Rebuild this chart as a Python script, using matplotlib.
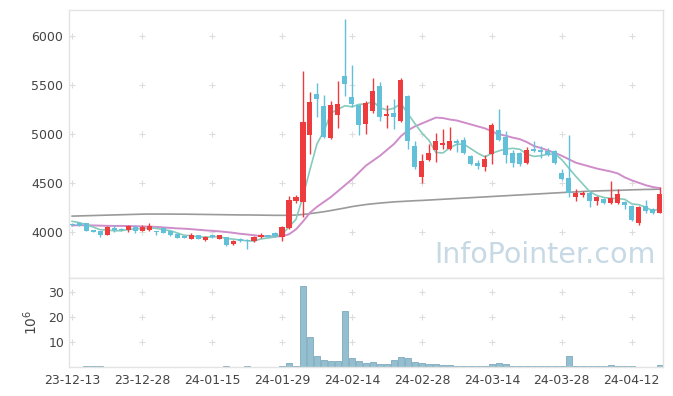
import numpy as np
import pandas as pd
import matplotlib
matplotlib.use('Agg')
import matplotlib.pyplot as plt

# daily prices (index 0 = 23-12-13)
opens = [4085, 4090, 4090, 4020, 4013, 3976, 4044, 4037, 4023, 4057,
         4016, 4023, 4010, 4044, 4010, 3983, 3962, 3935, 3969, 3921,
         3969, 3935, 3949, 3880, 3935, 3925, 3908, 3949, 3969, 3996,
         3955, 4041, 4317, 4312, 4996, 5412, 5289, 4966, 5200, 5595,
         5378, 5296, 5105, 5241, 5493, 5187, 5221, 5133, 5391, 4881,
         4567, 4738, 4840, 4888, 4853, 4929, 4942, 4779, 4704, 4663,
         4799, 5044, 4976, 4813, 4806, 4711, 4853, 4840, 4826, 4830,
         4608, 4554, 4363, 4377, 4404, 4323, 4336, 4302, 4302, 4309,
         4268, 4098, 4268, 4234, 4200]
highs = [4095, 4100, 4095, 4025, 4015, 4063, 4071, 4045, 4078, 4071,
         4071, 4098, 4012, 4050, 4015, 3990, 3965, 3990, 3975, 3962,
         3976, 3976, 3955, 3921, 3942, 3930, 3962, 3996, 3976, 4003,
         4060, 4370, 4385, 5643, 5432, 5520, 5398, 5340, 5541, 6173,
         5704, 5300, 5343, 5571, 5534, 5302, 5357, 5578, 5400, 4935,
         4796, 4901, 5010, 5051, 5078, 4950, 4976, 4790, 4740, 4786,
         5112, 5262, 5030, 4840, 4820, 4867, 4929, 4880, 4860, 4840,
         4650, 4996, 4439, 4425, 4425, 4370, 4345, 4520, 4445, 4323,
         4280, 4270, 4330, 4250, 4459]
lows = [4065, 4060, 4010, 4000, 3950, 3970, 4003, 4015, 4003, 3990,
        4010, 4015, 3976, 3990, 3965, 3940, 3940, 3930, 3930, 3910,
        3945, 3930, 3860, 3867, 3900, 3826, 3900, 3942, 3950, 3955,
        3915, 4030, 4300, 4160, 4799, 5173, 4962, 4949, 5064, 5391,
        5276, 4990, 5003, 5221, 5139, 5061, 5051, 5120, 4847, 4650,
        4500, 4724, 4717, 4847, 4840, 4822, 4800, 4690, 4643, 4622,
        4697, 4935, 4711, 4663, 4680, 4700, 4820, 4760, 4780, 4700,
        4530, 4363, 4323, 4360, 4255, 4275, 4290, 4289, 4290, 4241,
        4120, 4078, 4200, 4190, 4195]
closes = [4070, 4065, 4015, 4005, 3976, 4057, 4023, 4020, 4064, 4016,
          4057, 4064, 4000, 3996, 3969, 3942, 3942, 3976, 3935, 3955,
          3955, 3969, 3867, 3908, 3908, 3915, 3955, 3976, 3955, 3962,
          4051, 4330, 4363, 5125, 5329, 5363, 4976, 5296, 5306, 5513,
          5309, 5098, 5316, 5442, 5180, 5207, 5180, 5554, 4929, 4670,
          4728, 4812, 4929, 4908, 4929, 4915, 4813, 4697, 4677, 4745,
          5092, 4942, 4792, 4711, 4697, 4840, 4833, 4820, 4792, 4711,
          4547, 4404, 4398, 4404, 4316, 4357, 4302, 4350, 4391, 4282,
          4125, 4261, 4220, 4200, 4391]
prev_closes = [4130, 4120, 4125, 4115]  # closes before the first day (for MA5)

# volume, millions of shares
volumes = [0.1, 0.1, 0.4, 0.4, 0.4, 0.1, 0.1, 0.1, 0.1, 0.1,
           0.1, 0.1, 0.1, 0.1, 0.1, 0.1, 0.1, 0.1, 0.1, 0.1,
           0.1, 0.1, 0.4, 0.1, 0.1, 0.4, 0.1, 0.1, 0.1, 0.1,
           0.4, 1.5, 0.4, 32.3, 11.9, 4.4, 2.9, 2.4, 2.4, 22.2,
           3.6, 2.5, 1.7, 2.0, 1.2, 1.2, 2.8, 4.0, 3.6, 2.0,
           1.6, 1.2, 1.2, 0.8, 0.8, 0.4, 0.4, 0.4, 0.4, 0.4,
           1.2, 1.6, 1.2, 0.4, 0.4, 0.4, 0.4, 0.4, 0.4, 0.4,
           0.4, 4.4, 0.4, 0.4, 0.4, 0.4, 0.4, 0.8, 0.4, 0.4,
           0.4, 0.1, 0.1, 0.1, 0.8]

# 20-day and 120-day moving averages
ma20 = [4070, 4072, 4072, 4070, 4068, 4066, 4065, 4065, 4064, 4062,
        4060, 4058, 4055, 4050, 4045, 4040, 4037, 4032, 4026, 4020,
        4015, 4010, 4003, 3995, 3985, 3978, 3970, 3962, 3958, 3956,
        3960, 3980, 4030, 4110, 4200, 4260, 4310, 4360, 4420, 4480,
        4540, 4610, 4680, 4730, 4780, 4840, 4900, 4980, 5040, 5080,
        5110, 5140, 5170, 5165, 5150, 5140, 5120, 5100, 5080, 5060,
        5030, 5000, 4985, 4965, 4950, 4920, 4880, 4860, 4835, 4810,
        4780, 4745, 4710, 4690, 4670, 4650, 4635, 4620, 4600, 4560,
        4530, 4505, 4480, 4462, 4450]
ma120 = [4165, 4167, 4169, 4171, 4173, 4175, 4177, 4179, 4181, 4183,
         4185, 4186, 4186, 4186, 4186, 4185, 4185, 4184, 4183, 4182,
         4181, 4180, 4179, 4178, 4177, 4177, 4176, 4175, 4174, 4173,
         4173, 4173, 4176, 4182, 4190, 4200, 4210, 4222, 4235, 4248,
         4262, 4273, 4283, 4291, 4298, 4304, 4310, 4314, 4318, 4322,
         4325, 4329, 4333, 4337, 4341, 4345, 4349, 4353, 4357, 4361,
         4365, 4369, 4373, 4377, 4381, 4385, 4389, 4393, 4397, 4401,
         4405, 4409, 4412, 4416, 4419, 4422, 4424, 4426, 4428, 4430,
         4433, 4435, 4437, 4438, 4440]

tick_idx = [0, 10, 20, 30, 40, 50, 60, 70, 80]
tick_labels = ['23-12-13', '23-12-28', '24-01-15', '24-01-29', '24-02-14',
               '24-02-28', '24-03-14', '24-03-28', '24-04-12']
price_ticks = [4000, 4500, 5000, 5500, 6000]
vol_ticks = [10, 20, 30]

up_color = '#ee3b3e'
down_color = '#62c0d9'
frame_color = '#e3e3e3'

o = np.array(opens)
h = np.array(highs)
l = np.array(lows)
c = np.array(closes)
x = np.arange(len(c))

all_close = pd.Series(prev_closes + closes)
ma5 = all_close.rolling(5).mean().values[len(prev_closes):]

fig = plt.figure(figsize=(6.73, 3.96), dpi=100)
ax = fig.add_axes([0.1025, 0.298, 0.8825, 0.677])
axv = fig.add_axes([0.1025, 0.0735, 0.8825, 0.2245], sharex=ax)

# moving averages
ax.plot(x, ma120, color='#9a9a9a', lw=1.2, zorder=1)
ax.plot(x, ma20, color='#cf8dca', lw=1.4, zorder=1)
ax.plot(x, ma5, color='#86cbbd', lw=1.2, zorder=1)

# candles
colors = np.where(c >= o, up_color, down_color)
ax.vlines(x, l, h, colors=colors, lw=1, zorder=2)
body_low = np.minimum(o, c)
body_h = np.maximum(np.abs(c - o), 8)
ax.bar(x, body_h, 0.72, bottom=body_low, color=colors, zorder=3)

ax.set_xlim(-0.45, 84.45)
ax.set_ylim(3534, 6268)
ax.set_yticks(price_ticks)
ax.set_yticklabels([str(v) for v in price_ticks])
ax.tick_params(axis='y', length=0, labelsize=9, labelcolor='#444444', pad=4)
ax.tick_params(axis='x', length=0, labelbottom=False)

gx, gy = np.meshgrid(tick_idx, price_ticks)
ax.scatter(gx.ravel(), gy.ravel(), marker='+', s=18, color='#dddddd', lw=0.8, zorder=0)

ax.text(0.988, 0.085, 'InfoPointer.com', transform=ax.transAxes, ha='right',
        va='center', fontsize=20.5, color='#c6d9e4', zorder=0)

# volume
axv.bar(x, volumes, 0.92, color='#94bfd0', edgecolor='#7eaabd', lw=0.6, zorder=2)
axv.set_ylim(0, 35.6)
axv.set_yticks(vol_ticks)
axv.set_yticklabels([str(v) for v in vol_ticks])
axv.set_ylabel(r'$10^6$', fontsize=10, color='#444444', labelpad=6)
axv.set_xticks(tick_idx)
axv.set_xticklabels(tick_labels)
axv.tick_params(length=0, labelsize=9, labelcolor='#444444')
axv.tick_params(axis='x', pad=5)

gx, gy = np.meshgrid(tick_idx, vol_ticks)
axv.scatter(gx.ravel(), gy.ravel(), marker='+', s=18, color='#dddddd', lw=0.8, zorder=0)

for a in (ax, axv):
    for s in a.spines.values():
        s.set_color(frame_color)
        s.set_linewidth(1)

plt.savefig('out.png', dpi=100)
